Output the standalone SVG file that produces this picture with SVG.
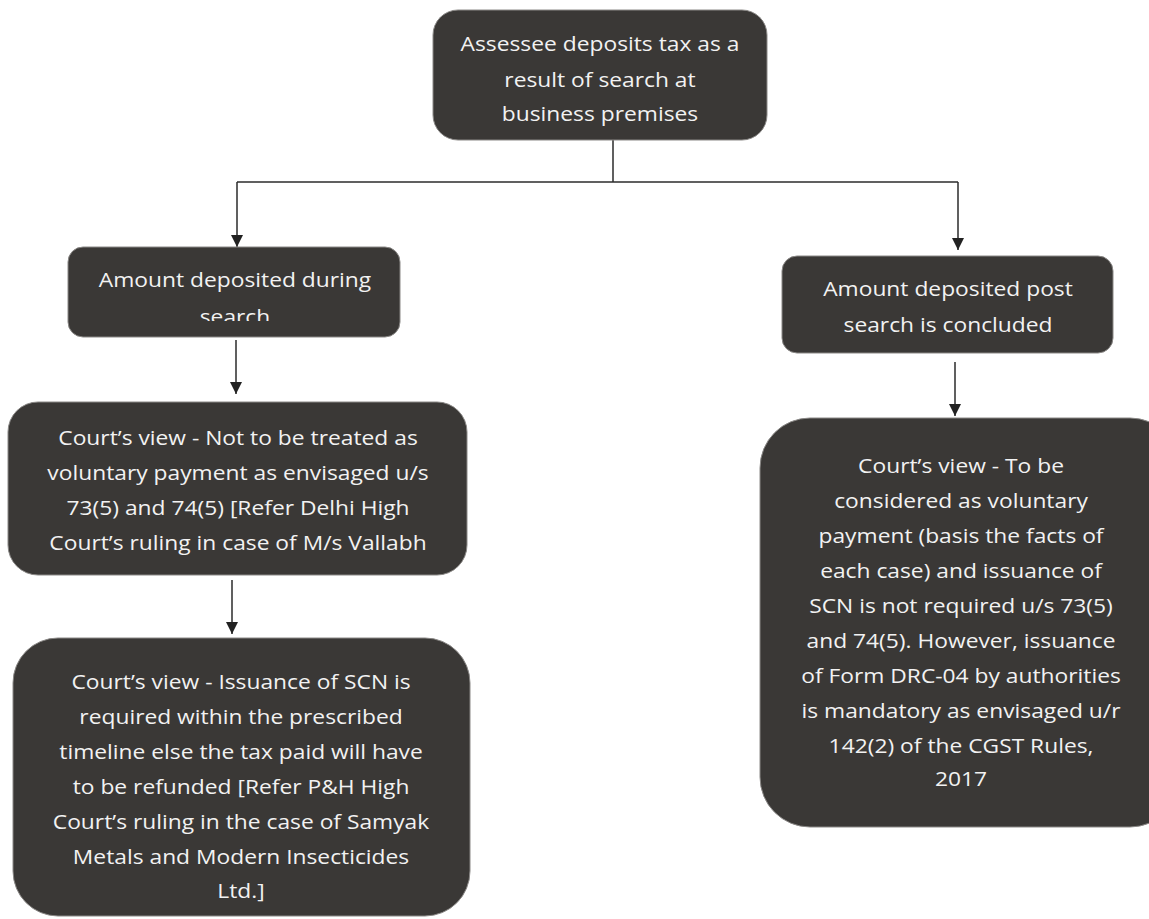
<svg xmlns="http://www.w3.org/2000/svg" width="1149" height="919" viewBox="0 0 1149 919">
<style>
.box{fill:#3a3836;stroke:#8a8886;stroke-width:1}
.t{font-family:"Open Sans","Liberation Sans",sans-serif;font-size:20px;fill:#f2f2f2;text-anchor:middle}
.c{fill:none;stroke:#2b2b2b;stroke-width:1.5}
</style>
<defs>
<marker id="ah" markerWidth="12" markerHeight="12" viewBox="0 0 12 12" refX="12" refY="6" orient="auto" markerUnits="userSpaceOnUse">
<path d="M0,0 L12,6 L0,12 Z" fill="#222"/>
</marker>
<clipPath id="clip1"><rect x="68" y="247" width="332" height="74"/></clipPath>
</defs>
<rect width="1149" height="919" fill="#ffffff"/>
<g id="connectors">
<path class="c" d="M613,140 V182"/>
<path class="c" d="M237,182 H958"/>
<path class="c" d="M237,182 V247" marker-end="url(#ah)"/>
<path class="c" d="M958,182 V250" marker-end="url(#ah)"/>
<path class="c" d="M236,340 V394" marker-end="url(#ah)"/>
<path class="c" d="M232,580 V634" marker-end="url(#ah)"/>
<path class="c" d="M955,362 V416" marker-end="url(#ah)"/>
</g>
<g id="n-top">
<rect class="box" x="433" y="10" width="334" height="130" rx="25"/>
<g transform="matrix(1.14,0,0,1,-84,0)">
<text class="t" x="600" y="51">Assessee deposits tax as a</text>
<text class="t" x="600" y="87">result of search at</text>
<text class="t" x="600" y="121">business premises</text>
</g>
</g>
<g id="n-during">
<rect class="box" x="68" y="247" width="332" height="90" rx="15"/>
<g clip-path="url(#clip1)">
<g transform="matrix(1.14,0,0,1,-32.9,0)">
<text class="t" x="235" y="287">Amount deposited during</text>
<text class="t" x="235" y="324">search</text>
</g>
</g>
</g>
<g id="n-view1">
<rect class="box" x="8" y="402" width="459" height="173" rx="30"/>
<g transform="matrix(1.14,0,0,1,-33.3,0)">
<text class="t" x="238" y="445">Court’s view - Not to be treated as</text>
<text class="t" x="238" y="480">voluntary payment as envisaged u/s</text>
<text class="t" x="238" y="515">73(5) and 74(5) [Refer Delhi High</text>
<text class="t" x="238" y="550">Court’s ruling in case of M/s Vallabh</text>
</g>
</g>
<g id="n-view2">
<rect class="box" x="13" y="638" width="457" height="278" rx="45"/>
<g transform="matrix(1.14,0,0,1,-33.7,0)">
<text class="t" x="241" y="689">Court’s view - Issuance of SCN is</text>
<text class="t" x="241" y="724">required within the prescribed</text>
<text class="t" x="241" y="759">timeline else the tax paid will have</text>
<text class="t" x="241" y="794">to be refunded [Refer P&amp;H High</text>
<text class="t" x="241" y="829">Court’s ruling in the case of Samyak</text>
<text class="t" x="241" y="864">Metals and Modern Insecticides</text>
<text class="t" x="241" y="898">Ltd.]</text>
</g>
</g>
<g id="n-post">
<rect class="box" x="782" y="256" width="331" height="97" rx="15"/>
<g transform="matrix(1.14,0,0,1,-132.7,0)">
<text class="t" x="948" y="296">Amount deposited post</text>
<text class="t" x="948" y="332">search is concluded</text>
</g>
</g>
<g id="n-view3">
<rect class="box" x="760" y="418" width="420" height="409" rx="50"/>
<g transform="matrix(1.14,0,0,1,-134.5,0)">
<text class="t" x="961" y="473">Court’s view - To be</text>
<text class="t" x="961" y="508">considered as voluntary</text>
<text class="t" x="961" y="543">payment (basis the facts of</text>
<text class="t" x="961" y="578">each case) and issuance of</text>
<text class="t" x="961" y="613">SCN is not required u/s 73(5)</text>
<text class="t" x="961" y="648">and 74(5). However, issuance</text>
<text class="t" x="961" y="683">of Form DRC-04 by authorities</text>
<text class="t" x="961" y="718">is mandatory as envisaged u/r</text>
<text class="t" x="961" y="753">142(2) of the CGST Rules,</text>
<text class="t" x="961" y="786">2017</text>
</g>
</g>
</svg>
